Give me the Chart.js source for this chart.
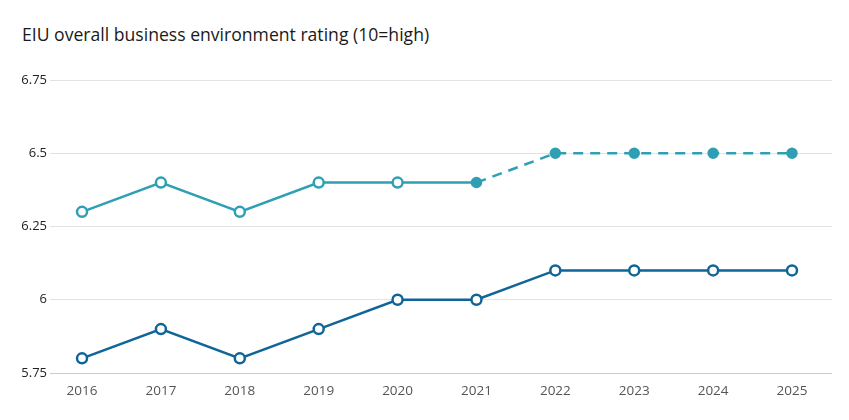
<!DOCTYPE html>
<html><head><meta charset="utf-8">
<script src="https://cdn.jsdelivr.net/npm/chart.js@4"></script>
<style>
html,body{margin:0;padding:0;background:#fff;}
#wrap{position:relative;width:849px;height:420px;}
#title{position:absolute;left:22px;top:22px;font-family:"Open Sans",Lato,sans-serif;font-size:17.6px;color:#1a1a1a;}
canvas{position:absolute;left:0;top:0;}
</style></head><body>
<div id="wrap"><div id="title">EIU overall business environment rating (10=high)</div><canvas id="c" width="849" height="420"></canvas></div>
<script>
const years = [2016,2017,2018,2019,2020,2021,2022,2023,2024,2025];
const seriesLight = [6.3,6.4,6.3,6.4,6.4,6.4,6.5,6.5,6.5,6.5];
const seriesDark = [5.8,5.9,5.8,5.9,6.0,6.0,6.1,6.1,6.1,6.1];
const forecastStart = 5; // index from which the light series is a forecast
const yTicks = [5.75,6,6.25,6.5,6.75];

const LIGHT = '#2f9fb3', DARK = '#0f6598';
const toPts = arr => arr.map((v,i)=>({x:years[i], y:v}));

new Chart(document.getElementById('c'), {
  type:'line',
  data:{datasets:[
    {data:toPts(seriesLight), borderColor:LIGHT, borderWidth:2.5,
     pointRadius:ctx=>ctx.dataIndex>=forecastStart?4.5:5,
     pointBorderWidth:2.5,
     pointBackgroundColor:ctx=>ctx.dataIndex>=forecastStart?LIGHT:'#fff',
     pointBorderColor:LIGHT,
     segment:{borderDash:ctx=>ctx.p0DataIndex>=forecastStart?[10,7]:undefined},
     tension:0},
    {data:toPts(seriesDark), borderColor:DARK, borderWidth:2.5,
     pointRadius:5, pointBorderWidth:2.5, pointBackgroundColor:'#fff', pointBorderColor:DARK, tension:0}
  ]},
  options:{
    responsive:false, animation:false,
    layout:{padding:{top:80,right:17,bottom:7,left:0}},
    plugins:{legend:{display:false},tooltip:{enabled:false},title:{display:false}},
    scales:{
      x:{type:'linear', min:2015.594, max:2025.507,
         ticks:{stepSize:1, includeBounds:false, padding:10, color:'#555',
                font:{family:'"Open Sans",Lato,sans-serif',size:13.5},
                callback:v=>String(v)},
         grid:{display:false, drawTicks:false}, border:{display:false},
         afterFit:s=>{s.height=40;}},
      y:{min:5.75, max:6.75,
         afterBuildTicks:s=>{s.ticks=yTicks.map(v=>({value:v}));},
         ticks:{padding:3, color:'#222', font:{family:'"Open Sans",Lato,sans-serif',size:13},
                callback:v=>String(v)},
         grid:{drawTicks:false, color:ctx=>ctx.tick&&ctx.tick.value===5.75?'#c6ccd6':'#e3e3e3', lineWidth:1},
         border:{display:false},
         afterFit:s=>{s.width=50;}}
    }
  }
});
</script>
</body></html>
